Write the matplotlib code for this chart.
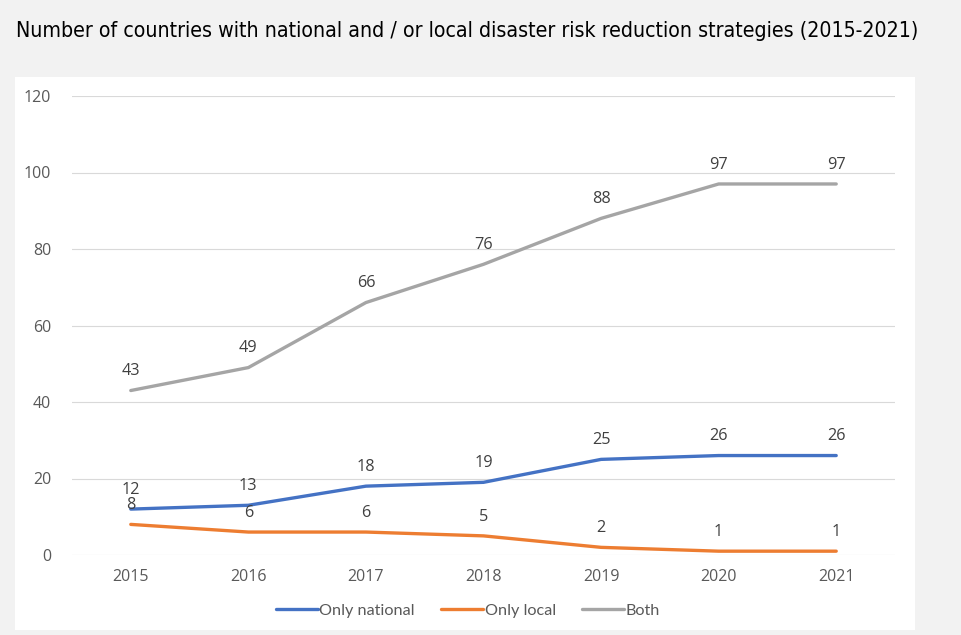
import matplotlib.pyplot as plt
from matplotlib.patches import Rectangle

years = ["2015", "2016", "2017", "2018", "2019", "2020", "2021"]
only_national = [12, 13, 18, 19, 25, 26, 26]
only_local = [8, 6, 6, 5, 2, 1, 1]
both = [43, 49, 66, 76, 88, 97, 97]

W, H = 961, 635
fig = plt.figure(figsize=(W / 100, H / 100), dpi=100)
fig.patch.set_facecolor("#f2f2f2")

# white chart panel, kept behind the axes
fig.patches.append(Rectangle((15 / W, (H - 630) / H), 900 / W, 553 / H,
                             transform=fig.transFigure, facecolor="white",
                             edgecolor="none", zorder=-5))

fig.text(16 / W, (H - 31) / H,
         "Number of countries with national and / or local disaster risk reduction strategies (2015-2021)",
         family=["DejaVu Sans"], stretch="condensed", fontsize=15.3,
         va="center", ha="left", color="black")

ax = fig.add_axes([72 / W, 80 / H, 823 / W, 459 / H])
ax.set_facecolor("none")

x = range(len(years))
series = [(only_national, "#4472C4", "Only national"),
          (only_local, "#ED7D31", "Only local"),
          (both, "#A5A5A5", "Both")]
for vals, col, name in series:
    ax.plot(x, vals, color=col, lw=2.4, label=name, solid_capstyle="round", zorder=3)
    for i, v in enumerate(vals):
        ax.annotate(str(v), (i, v), xytext=(0, 8), textcoords="offset points",
                    ha="center", va="bottom", fontsize=11.7, color="#404040",
                    family=["Open Sans", "DejaVu Sans"])

ax.set_xlim(-0.5, len(years) - 0.5)
ax.set_ylim(0, 120)
ax.set_yticks(range(0, 121, 20))
ax.set_xticks(list(x))
ax.set_xticklabels(years)
ax.grid(axis="y", color="#d9d9d9", lw=0.8)
ax.set_axisbelow(True)
for s in ax.spines.values():
    s.set_visible(False)
ax.tick_params(length=0, labelsize=11.5, labelcolor="#595959", pad=10)
ax.tick_params(axis="y", pad=15)
for lab in ax.get_xticklabels() + ax.get_yticklabels():
    lab.set_family(["Open Sans", "DejaVu Sans"])

leg = ax.legend(loc="center", bbox_to_anchor=(0.481, -0.122), ncol=3, frameon=False,
                handlelength=2.6, handletextpad=0.1, columnspacing=1.6,
                prop={"family": ["Lato", "DejaVu Sans"], "size": 11.7})
for t in leg.get_texts():
    t.set_color("#595959")

fig.savefig("out.png", dpi=100, facecolor=fig.get_facecolor())
